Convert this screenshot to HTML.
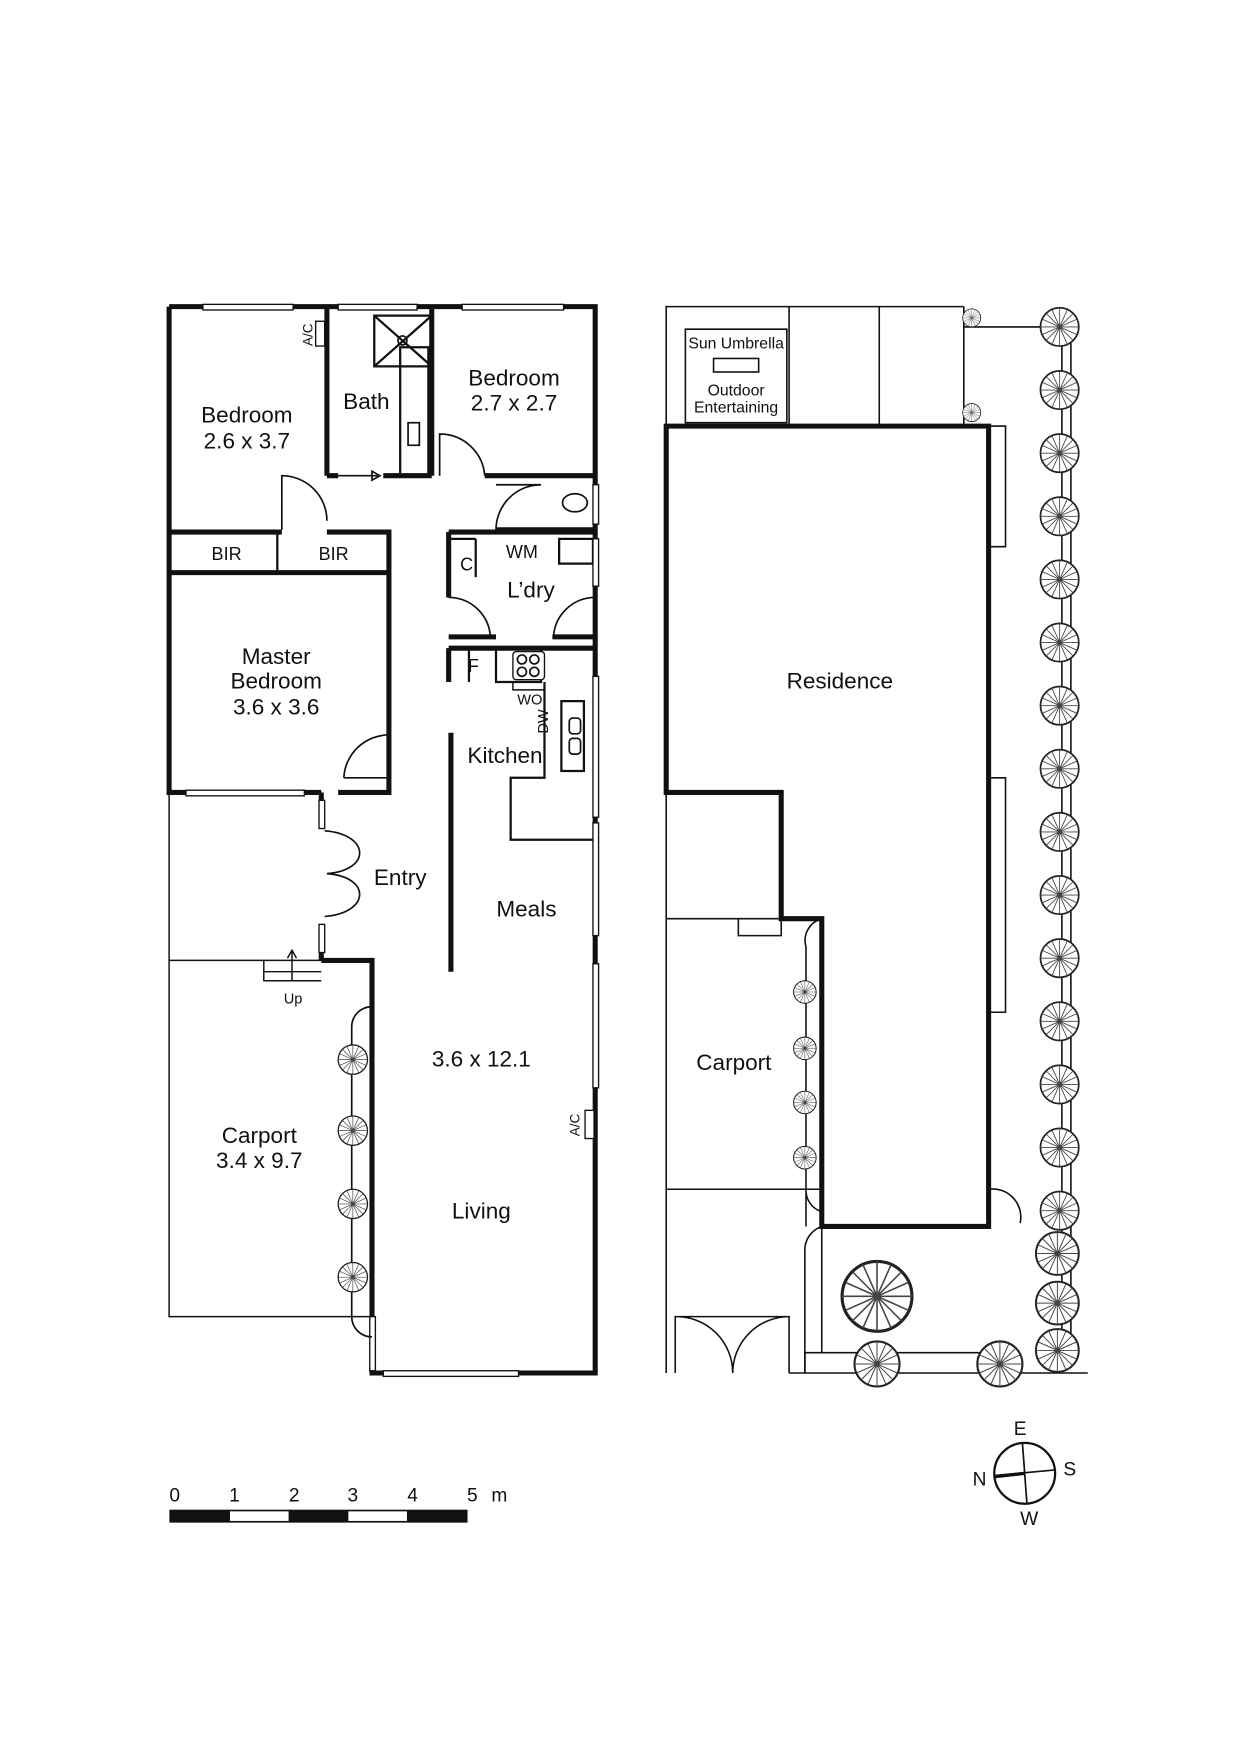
<!DOCTYPE html>
<html><head><meta charset="utf-8"><style>html,body{margin:0;padding:0;background:#fff}svg{display:block}text{font-family:"Liberation Sans",sans-serif;fill:#111}</style></head><body>
<svg width="1240" height="1754" viewBox="0 0 1100 1556" xmlns="http://www.w3.org/2000/svg">
<defs>
<g id="tree"><circle r="1" fill="#fff" stroke="#222" stroke-width="0.09"/><path d="M0 -1L0 1M-1 0L1 0M-.7 -.7L.7 .7M-.7 .7L.7 -.7M-.4 -.9L.4 .9M-.9 -.4L.9 .4M-.9 .4L.9 -.4M-.4 .9L.4 -.9" stroke="#444" stroke-width="0.045" fill="none"/></g>
</defs>
<g fill="none" stroke="#111">
<g stroke-width="4.5">
<path d="M150 272H528V1218H330V852H285"/>
<path d="M150 272V703H285"/>
<path d="M290 272V422M383 272V422M290 422H300M340 422H383"/>
<path d="M430 422H528M440 470H528M150 472H250M290 472H345V703H300M150 508H345"/>
<path d="M398 472H528M398 472V530M398 565H440M490 565H528M398 575H528M398 575V605"/>
<path d="M400 650V862M285 703V735M285 820V852"/>
</g>
<g stroke-width="2">
<path d="M246 474V508M422 478V512M422 478H398"/>
<path d="M416 575V605M440 575V605H480V575"/>
<path d="M483 605V690H453V745H528M380 308V422H355V308Z"/>
<path d="M496 478H526V500H496Z"/>
<path d="M332 280H383V325H332ZM332 280L383 325M383 280L332 325"/>
<path d="M498 622H518V684H498Z"/>
</g>
<g stroke-width="1.2" fill="#fff">
<rect x="180" y="270" width="80" height="5"/><rect x="300" y="270" width="70" height="5"/><rect x="410" y="270" width="90" height="5"/>
<rect x="526" y="430" width="5" height="35"/><rect x="526" y="478" width="5" height="42"/>
<rect x="526" y="600" width="5" height="125"/><rect x="526" y="730" width="5" height="100"/><rect x="526" y="855" width="5" height="110"/>
<rect x="165" y="701" width="105" height="5"/><rect x="340" y="1216" width="120" height="5"/>
<rect x="283" y="710" width="5" height="25"/><rect x="283" y="820" width="5" height="25"/><rect x="328" y="1168" width="5" height="48"/>
<rect x="280" y="285" width="8" height="22"/><rect x="519" y="985" width="8" height="25"/>
<rect x="455" y="578" width="28" height="25" rx="3"/>
</g>
<g stroke-width="1.5">
<circle cx="463" cy="585" r="4"/><circle cx="474" cy="585" r="4"/><circle cx="463" cy="596" r="4"/><circle cx="474" cy="596" r="4"/>
<ellipse cx="510" cy="446" rx="11" ry="8"/>
<circle cx="357" cy="302" r="4"/>
<rect x="362" y="375" width="10" height="20"/>
<rect x="505" y="655" width="10" height="14" rx="3"/><rect x="505" y="637" width="10" height="14" rx="3"/>
</g>
<g stroke-width="1.5">
<path d="M250 470V422A40 40 0 0 1 290 462"/>
<path d="M390 422V385A40 40 0 0 1 430 422"/>
<path d="M440 470A40 40 0 0 1 480 430H440"/>
<path d="M398 530A37 37 0 0 1 435 565M528 530A37 37 0 0 0 491 565"/>
<path d="M305 690A40 40 0 0 1 345 652M305 690H345"/>
<path d="M288 737C328 740 330 772 290 775C330 778 328 810 288 813"/>
<path d="M330 893A18 18 0 0 0 312 910M312 910V1168M312 1168A18 18 0 0 0 330 1186"/>
<path d="M300 422H335M330 418L337 422L330 426Z"/>
</g>
<g stroke-width="1.3">
<path d="M150 703V1168H330M150 852H285"/>
<path d="M234 852V870H285M234 862H285M259 843V870M255 850L259 843L263 850"/>
<path d="M455 605V612M483 612H455V605"/>
</g>
<g stroke-width="1.4">
<path d="M591 1218V272H855M591 378H877M700 272V378M780 272V378M855 272V378M855 290H950"/>
<path d="M608 292H698V375H608Z"/>
<rect x="633" y="318" width="40" height="12"/>
<path d="M591 815H693M591 1055H729M877 378H892V485H877M877 690H892V898H877"/>
<path d="M655 815V830H693V815"/>
<path d="M714 1218V1200H900M729 1088V1200M942 290V1200M950 290V1210"/>
<path d="M700 1218H965"/>
<path d="M599 1218V1168H700V1218M599 1168A50 50 0 0 1 650 1218A50 50 0 0 1 700 1168"/>
<path d="M714 1218V1110A22 22 0 0 1 729 1088"/>
<path d="M715 1088V840A20 20 0 0 1 729 815M715 1055A20 20 0 0 0 729 1075"/>
<path d="M877 1088V1055A25 25 0 0 1 905 1085"/>
</g>
<path stroke-width="4.5" d="M591 378H877V1088H729V815H693V703H591Z"/>
</g>
<g>
<use href="#tree" transform="translate(313 940) scale(13)"/><use href="#tree" transform="translate(313 1003) scale(13)"/><use href="#tree" transform="translate(313 1068) scale(13)"/><use href="#tree" transform="translate(313 1133) scale(13)"/>
<use href="#tree" transform="translate(714 880) scale(10)"/><use href="#tree" transform="translate(714 930) scale(10)"/><use href="#tree" transform="translate(714 978) scale(10)"/><use href="#tree" transform="translate(714 1027) scale(10)"/>
<use href="#tree" transform="translate(862 282) scale(8)"/><use href="#tree" transform="translate(862 366) scale(8)"/>
<use href="#tree" transform="translate(940 290) scale(17)"/><use href="#tree" transform="translate(940 346) scale(17)"/><use href="#tree" transform="translate(940 402) scale(17)"/><use href="#tree" transform="translate(940 458) scale(17)"/><use href="#tree" transform="translate(940 514) scale(17)"/><use href="#tree" transform="translate(940 570) scale(17)"/><use href="#tree" transform="translate(940 626) scale(17)"/><use href="#tree" transform="translate(940 682) scale(17)"/><use href="#tree" transform="translate(940 738) scale(17)"/><use href="#tree" transform="translate(940 794) scale(17)"/><use href="#tree" transform="translate(940 850) scale(17)"/><use href="#tree" transform="translate(940 906) scale(17)"/><use href="#tree" transform="translate(940 962) scale(17)"/><use href="#tree" transform="translate(940 1018) scale(17)"/><use href="#tree" transform="translate(940 1074) scale(17)"/><use href="#tree" transform="translate(938 1112) scale(19)"/><use href="#tree" transform="translate(938 1156) scale(19)"/><use href="#tree" transform="translate(938 1198) scale(19)"/>
<use href="#tree" transform="translate(778 1210) scale(20)"/><use href="#tree" transform="translate(887 1210) scale(20)"/><use href="#tree" transform="translate(778 1150) scale(31)"/>
</g>
<g font-size="20" text-anchor="middle">
<text x="219" y="375">Bedroom</text><text x="219" y="398">2.6 x 3.7</text>
<text x="325" y="363">Bath</text>
<text x="456" y="342">Bedroom</text><text x="456" y="364">2.7 x 2.7</text>
<text x="245" y="589">Master</text><text x="245" y="611">Bedroom</text><text x="245" y="634">3.6 x 3.6</text>
<text x="471" y="530">L’dry</text><text x="448" y="677">Kitchen</text>
<text x="355" y="785">Entry</text><text x="467" y="813">Meals</text>
<text x="427" y="946">3.6 x 12.1</text><text x="427" y="1081">Living</text>
<text x="230" y="1014">Carport</text><text x="230" y="1036">3.4 x 9.7</text>
<text x="745" y="611">Residence</text><text x="651" y="949">Carport</text>
</g>
<g font-size="16" text-anchor="middle">
<text x="201" y="497">BIR</text><text x="296" y="497">BIR</text>
<text x="414" y="506">C</text><text x="463" y="495">WM</text><text x="420" y="596">F</text>
<text x="470" y="625" font-size="13">WO</text>
<text x="260" y="890" font-size="13">Up</text>
<text x="653" y="309" font-size="14">Sun Umbrella</text>
<text x="653" y="351" font-size="14">Outdoor</text><text x="653" y="366" font-size="14">Entertaining</text>
<text transform="translate(277 297) rotate(-90)" font-size="12">A/C</text>
<text transform="translate(514 998) rotate(-90)" font-size="12">A/C</text>
<text transform="translate(486 640) rotate(-90)" font-size="13">DW</text>
</g>
<g font-size="17" text-anchor="middle">
<text x="155" y="1332">0</text><text x="208" y="1332">1</text><text x="261" y="1332">2</text><text x="313" y="1332">3</text><text x="366" y="1332">4</text><text x="419" y="1332">5</text><text x="443" y="1332">m</text>
</g>
<rect x="151" y="1340" width="263" height="10" fill="#fff" stroke="#111" stroke-width="1.5"/>
<rect x="151" y="1340" width="53" height="10" fill="#111"/><rect x="256" y="1340" width="53" height="10" fill="#111"/><rect x="361" y="1340" width="53" height="10" fill="#111"/>
<g stroke="#111" fill="none">
<circle cx="909" cy="1307" r="27" stroke-width="2"/>
<path d="M907 1280L911 1334M882 1309L936 1304" stroke-width="1.5"/>
<path d="M882 1310L909 1307" stroke-width="3"/>
</g>
<g font-size="17" text-anchor="middle"><text x="905" y="1273">E</text><text x="949" y="1309">S</text><text x="869" y="1318">N</text><text x="913" y="1353">W</text></g>
</svg>
</body></html>
